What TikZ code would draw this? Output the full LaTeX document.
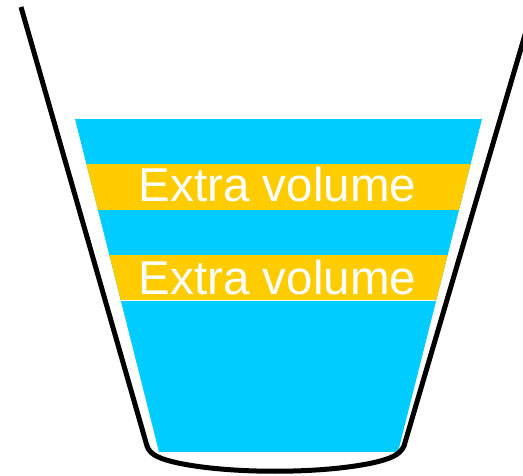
\documentclass[tikz,border=0pt]{standalone}
\usepackage{fontspec}
\setmainfont{Liberation Sans}
\usetikzlibrary{positioning}
\definecolor{liquid}{HTML}{00CCFF}
\definecolor{extra}{HTML}{FFCC00}

\begin{document}
\begin{tikzpicture}[
  x=1pt, y=-1pt,
  label/.style={text=white, font=\fontsize{47.5}{47.5}\selectfont, anchor=base, inner sep=0pt},
  glass/.style={draw=black, line width=5pt, line join=round}
]
  \useasboundingbox (0,0) rectangle (523,476);
  \clip (0,0) rectangle (523,476);

  % liquid with the two extra bands
  \begin{scope}
    \clip (75,119) -- (482,119) -- (398,452) -- (159,452) -- cycle;
    \fill[liquid] (0,119) rectangle (523,452);
    \fill[extra] (0,164) rectangle (523,210);
    \fill[extra] (0,255) rectangle (523,300);
    \draw[white, line width=1pt] (0,300.5) -- (523,300.5);
  \end{scope}

  \node[label] (upper) at (277.5,202) {Extra volume};
  \node[label] (lower) at (277.5,295) {Extra volume};

  % the glass
  \draw[glass] (21,7) -- (147,446)
    .. controls (150,455) and (160,459) .. (178,463)
    .. controls (230,474) and (320,474) .. (372,463)
    .. controls (390,459) and (400,455) .. (404,446)
    -- (527,28);
\end{tikzpicture}
\end{document}
